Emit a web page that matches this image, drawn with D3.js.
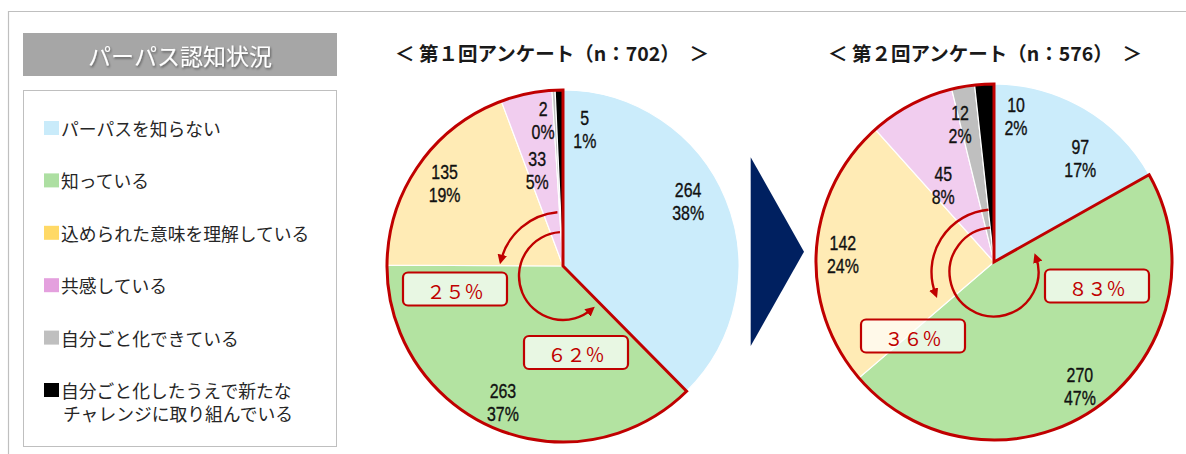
<!DOCTYPE html>
<html><head><meta charset="utf-8">
<script src="https://cdn.jsdelivr.net/npm/d3@7"></script>
<style>
html,body{margin:0;padding:0;background:#fff;}
svg{display:block;}
</style></head>
<body>
<svg id="c" width="1186" height="454"></svg>
<script>
// ---- data ----
const categories = ["パーパスを知らない","知っている","込められた意味を理解している","共感している","自分ごと化できている","自分ごと化したうえで新たなチャレンジに取り組んでいる"];
const legendLines = [["パーパスを知らない"],["知っている"],["込められた意味を理解している"],["共感している"],["自分ごと化できている"],["自分ごと化したうえで新たな","チャレンジに取り組んでいる"]];
const survey1Values = [264, 263, 135, 33, 2, 5];
const survey1Pcts = ["38%","37%","19%","5%","0%","1%"];
const survey2Values = [97, 270, 142, 45, 12, 10];
const survey2Pcts = ["17%","47%","24%","8%","2%","2%"];
const surveyTitles = ["＜ 第１回アンケート（n：702）　＞", "＜ 第２回アンケート（n：576）　＞"];
const survey1Callouts = ["２５％", "６２％"];
const survey2Callouts = ["３６％", "８３％"];
const chartTitle = "パーパス認知状況";

// ---- styles / layout ----
const sliceColors = ["#cbecfb","#b3e3a1","#ffebb5","#f1cdef","#bfbfbf","#000000"];
const legendColors = ["#c9ebfa","#addfa2","#ffd966","#e4a0de","#bfbfbf","#000000"];
const red = "#c00000";
const svg = d3.select("#c");

// frame
svg.append("path").attr("d","M8.5,454 V11.5 H1186").attr("fill","none").attr("stroke","#bfbfbf").attr("stroke-width",1.2);

// title box
svg.append("rect").attr("x",23).attr("y",33).attr("width",314).attr("height",43).attr("fill","#a6a6a6");
const defs = svg.append("defs");
const f = defs.append("filter").attr("id","sh").attr("x","-10%").attr("y","-30%").attr("width","120%").attr("height","160%");
f.append("feDropShadow").attr("dx",1).attr("dy",1.5).attr("stdDeviation",1).attr("flood-color","#000").attr("flood-opacity",0.45);
svg.append("text").attr("x",180).attr("y",55).attr("text-anchor","middle").attr("dominant-baseline","central")
  .attr("font-family","Noto Sans CJK JP").attr("font-size",23).attr("fill","#fff").attr("filter","url(#sh)").text(chartTitle);

// legend
svg.append("rect").attr("x",23.5).attr("y",90.5).attr("width",313).attr("height",356).attr("fill","#fff").attr("stroke","#bfbfbf").attr("stroke-width",1);
const legY = d3.scalePoint().domain(categories).range([128, 390]);
const lg = svg.append("g").selectAll("g").data(categories).join("g")
  .attr("transform", d => `translate(0,${legY(d)})`);
lg.append("rect").attr("x",44).attr("y",-7).attr("width",15).attr("height",14).attr("fill",(d,i)=>legendColors[i]);
lg.each(function(d,i){
  legendLines[i].forEach((line,j)=>{
    d3.select(this).append("text").attr("x", j===0?61:63).attr("y", j*23).attr("dominant-baseline","central")
      .attr("font-family","Noto Sans CJK JP").attr("font-size",17.8).attr("fill","#262626").text(line);
  });
});

// arrow marker
defs.append("marker").attr("id","ah").attr("viewBox","0 0 10 10").attr("refX",6).attr("refY",5)
  .attr("markerWidth",4).attr("markerHeight",4).attr("orient","auto").attr("markerUnits","strokeWidth")
  .append("path").attr("d","M0,0 L10,5 L0,10 Z").attr("fill",red);

const pie = d3.pie().sort(null).value(d=>d);
const deg = Math.PI/180;

function drawPie(cfg){
  const {cx, cy, R, values, pcts, title, titleX, labelCfg, arrows, callouts, boxes} = cfg;
  const g = svg.append("g").attr("transform",`translate(${cx},${cy})`);
  const arcs = pie(values);
  const arc = d3.arc().innerRadius(0).outerRadius(R);
  g.selectAll("path.s").data(arcs).join("path").attr("class","s").attr("d",arc)
    .attr("fill",(d,i)=>sliceColors[i]).attr("stroke","#fff").attr("stroke-width",1.2);
  // red outline of "aware" group (all but first slice)
  g.append("path").attr("d", arc({startAngle: arcs[1].startAngle, endAngle: 2*Math.PI}))
    .attr("fill","none").attr("stroke",red).attr("stroke-width",3).attr("stroke-linejoin","miter");
  // labels
  arcs.forEach((a,i)=>{
    const mid = (a.startAngle + a.endAngle)/2 + labelCfg[i][0]*deg;
    const r = labelCfg[i][1]*R;
    const p = d3.arc().innerRadius(r).outerRadius(r).centroid({startAngle:mid, endAngle:mid});
    const t = g.append("text").attr("text-anchor","middle").attr("transform",`translate(${p[0]},${p[1]}) scale(0.76,1)`)
      .attr("font-family","'Liberation Sans',Arial,sans-serif").attr("font-size",21).attr("fill","#111")
      .attr("stroke","#111").attr("stroke-width",0.35);
    t.append("tspan").attr("x",0).attr("y",-11.5).attr("dominant-baseline","central").text(a.value);
    t.append("tspan").attr("x",0).attr("y",11.5).attr("dominant-baseline","central").text(pcts[i]);
  });
  // curved arrows
  arrows.forEach(ar=>{
    const p = d3.path();
    const a0 = ar.a0*deg - Math.PI/2, a1 = ar.a1*deg - Math.PI/2;
    p.arc(0, 10, ar.r, a0, a1, true);
    g.append("path").attr("d",p.toString()).attr("fill","none").attr("stroke",red).attr("stroke-width",2.4)
      .attr("marker-end","url(#ah)");
  });
  // callout boxes
  callouts.forEach((txt,i)=>{
    const b = boxes[i];
    g.append("rect").attr("x",b[0]-52).attr("y",b[1]-16.5).attr("width",104).attr("height",33).attr("rx",5)
      .attr("fill","#fff").attr("fill-opacity",0.7).attr("stroke",red).attr("stroke-width",2.2);
    g.append("text").attr("x",b[0]).attr("y",b[1]+1).attr("text-anchor","middle").attr("dominant-baseline","central")
      .attr("font-family","Noto Sans CJK JP").attr("font-size",19).attr("fill",red).text(txt);
  });
  // title
  svg.append("text").attr("x",titleX).attr("y",52).attr("text-anchor","middle").attr("dominant-baseline","central")
    .attr("font-family","Noto Sans CJK JP").attr("font-weight",700).attr("font-size",19.5).attr("fill","#1a1a1a").text(title);
}

drawPie({cx:563, cy:266, R:176, values:survey1Values, pcts:survey1Pcts, title:surveyTitles[0], titleX:552,
  labelCfg:[[-5,0.80],[1,0.845],[0,0.82],[-3,0.565],[-4.7,0.835],[10.3,0.79]],
  arrows:[{r:64,a0:-5,a1:-76},{r:44,a0:-4,a1:-221}],
  callouts:survey1Callouts, boxes:[[-108,23],[13,86.5]]});

drawPie({cx:994, cy:262, R:178, values:survey2Values, pcts:survey2Pcts, title:surveyTitles[1], titleX:985,
  labelCfg:[[9.3,0.76],[0.4,0.85],[-0.75,0.85],[-5.8,0.515],[-3.8,0.80],[11.7,0.83]],
  arrows:[{r:62.5,a0:-5,a1:-111},{r:44.5,a0:-5,a1:-290}],
  callouts:survey2Callouts, boxes:[[-81,74],[103,24]]});

// transition chevron
const chev = d3.line()([[750.7,157.3],[804,251.7],[750.7,346]]);
svg.append("path").attr("d",chev+"Z").attr("fill","#002060");
</script>
</body></html>
